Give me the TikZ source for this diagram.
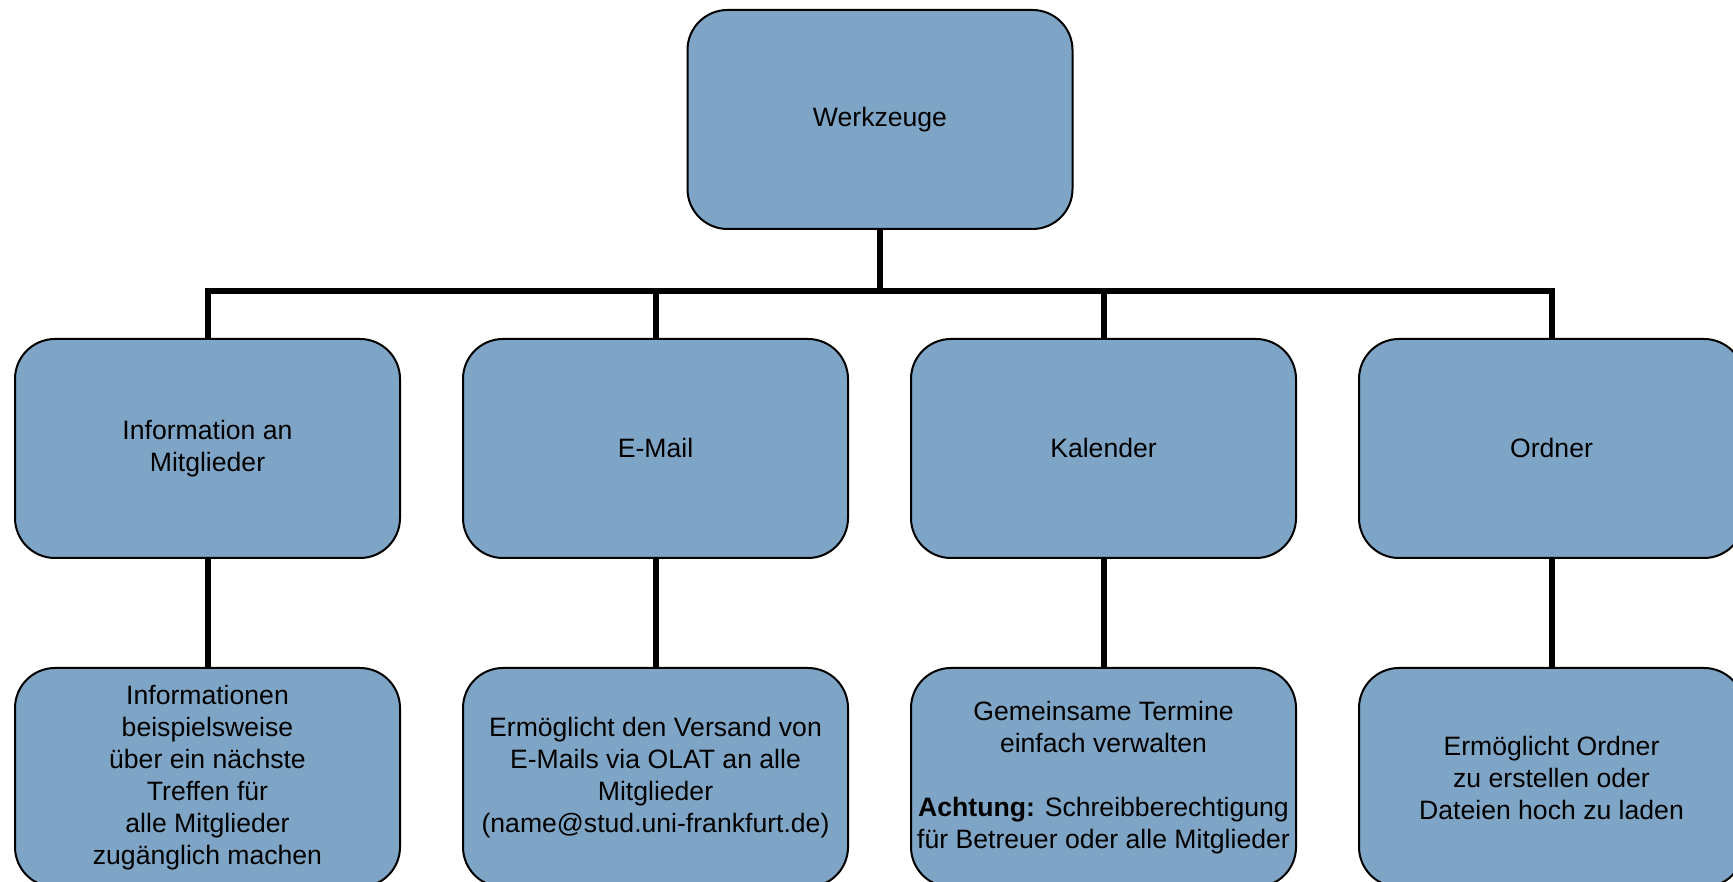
\documentclass[tikz,border=0pt]{standalone}
\usepackage{fontspec}
\setmainfont{Liberation Sans}
\usetikzlibrary{positioning}
\definecolor{boxblue}{RGB}{127,165,198}

\begin{document}
\begin{tikzpicture}[
    box/.style={draw=black, line width=1pt, fill=boxblue, rounded corners=20pt,
      minimum width=192.5pt, minimum height=109.5pt, align=center,
      inner sep=1pt, font=\fontsize{13.3pt}{16pt}\selectfont},
    conn/.style={line width=3pt}
  ]
  \useasboundingbox (0,0) rectangle (866.5pt,441pt);

  % second row
  \node[box] (info) at (103.75pt,216.75pt) {Information an\\Mitglieder};
  \node[box, right=30.5pt of info] (email) {E-Mail};
  \node[box, right=30.5pt of email] (kalender) {Kalender};
  \node[box, right=30.5pt of kalender] (ordner) {Ordner};

  % root
  \node[box] (werkzeuge) at (440pt,381.25pt) {Werkzeuge};

  % third row
  \node[box, below=54pt of info] (infotext)
    {Informationen\\beispielsweise\\über ein nächste\\Treffen für\\alle Mitglieder\\zugänglich machen};
  \node[box, below=54pt of email] (emailtext)
    {Ermöglicht den Versand von\\E-Mails via OLAT an alle\\Mitglieder\\(name@stud.uni-frankfurt.de)};
  \node[box, below=54pt of kalender] (kalendertext)
    {Gemeinsame Termine\\einfach verwalten\\[16pt]\textbf{Achtung:} Schreibberechtigung\\für Betreuer oder alle Mitglieder};
  \node[box, below=54pt of ordner] (ordnertext)
    {Ermöglicht Ordner\\zu erstellen oder\\Dateien hoch zu laden};

  \coordinate (bus) at (440pt,295.5pt);

  \draw[conn] (werkzeuge.south) -- (bus);
  \draw[conn] (info.north) -- (info.north |- bus) -- (ordner.north |- bus) -- (ordner.north);
  \foreach \n in {email,kalender}
    \draw[conn] (\n.north) -- (\n.north |- bus);
  \foreach \n in {info,email,kalender,ordner}
    \draw[conn] (\n.south) -- (\n text.north);
\end{tikzpicture}
\end{document}
